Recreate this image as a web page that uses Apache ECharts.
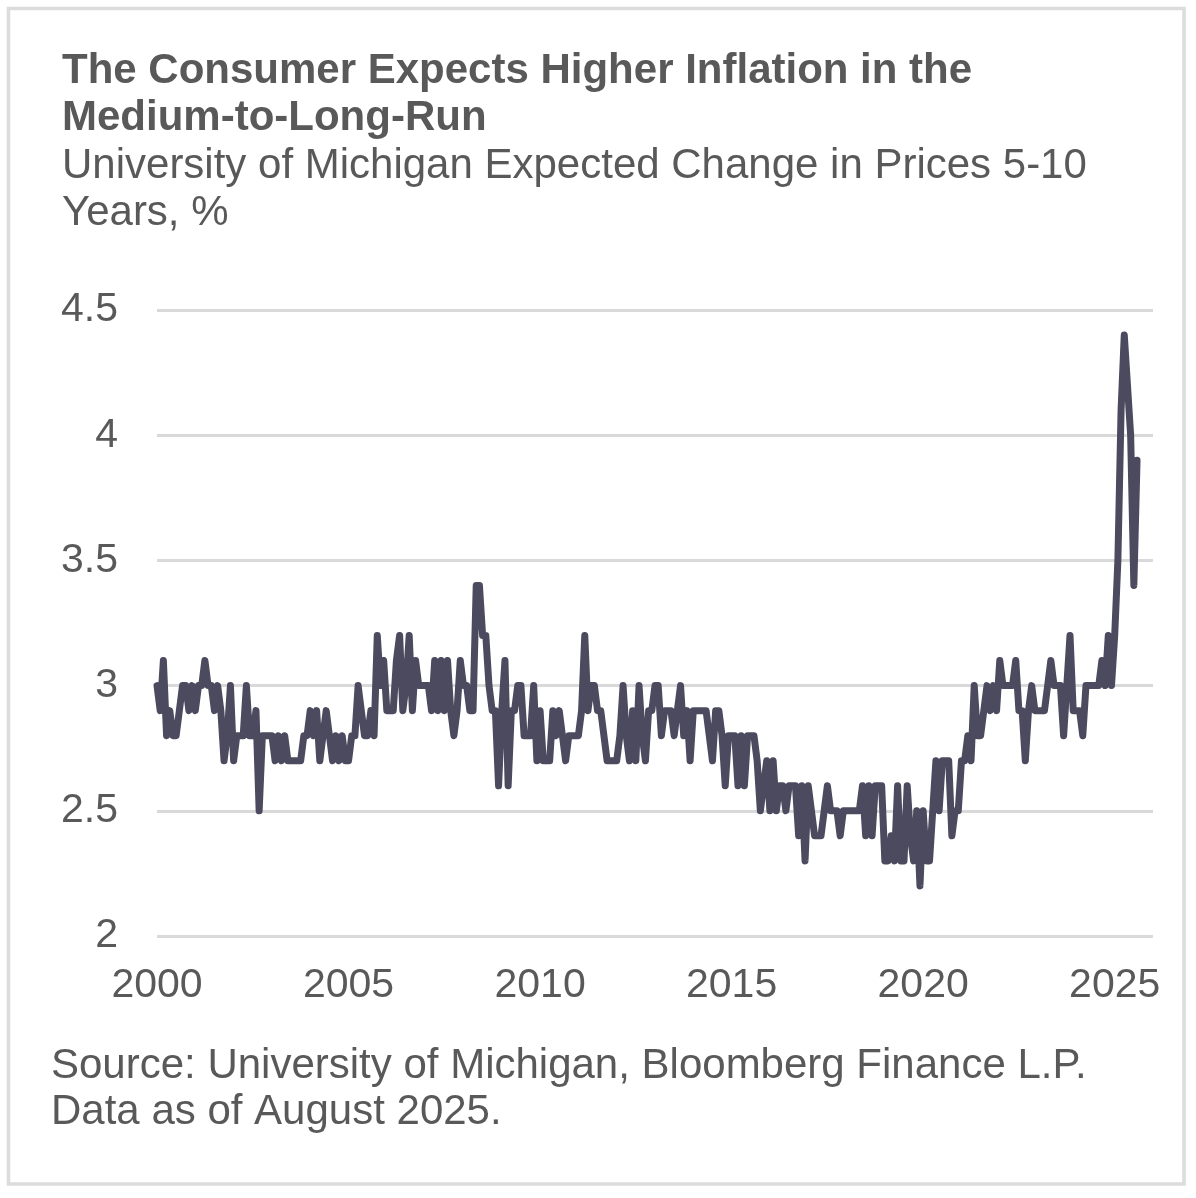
<!DOCTYPE html>
<html>
<head>
<meta charset="utf-8">
<title>UMich 5-10 Year Inflation Expectations</title>
<script src="https://cdn.jsdelivr.net/npm/echarts@6/dist/echarts.min.js"></script>
<style>
    html, body { margin: 0; padding: 0; background: #ffffff; }
    #main { width: 1196px; height: 1198px; }
</style>
</head>
<body>
<div id="main"></div>
<script>
// monthly readings, Jan 2000 onward (%)
var v2000_04 = [
    3.0, 2.9, 3.1, 2.8, 2.9, 2.8, 2.8, 2.9, 3.0, 3.0, 2.9, 3.0,
    2.9, 3.0, 3.0, 3.1, 3.0, 3.0, 2.9, 3.0, 2.9, 2.7, 2.8, 3.0,
    2.7, 2.8, 2.8, 2.8, 3.0, 2.8, 2.8, 2.9, 2.5, 2.8, 2.8, 2.8,
    2.8, 2.7, 2.8, 2.7, 2.8, 2.7, 2.7, 2.7, 2.7, 2.7, 2.8, 2.8,
    2.9, 2.8, 2.9, 2.7, 2.8, 2.9, 2.8, 2.7, 2.8, 2.7, 2.8, 2.7
];
var v2005_09 = [
    2.7, 2.8, 2.8, 3.0, 2.9, 2.8, 2.8, 2.9, 2.8, 3.2, 3.0, 3.1,
    2.9, 2.9, 2.9, 3.1, 3.2, 2.9, 3.0, 3.2, 2.9, 3.1, 3.0, 3.0,
    3.0, 3.0, 2.9, 3.1, 2.9, 3.1, 2.9, 3.1, 2.9, 2.8, 2.9, 3.1,
    3.0, 3.0, 2.9, 2.9, 3.4, 3.4, 3.2, 3.2, 3.0, 2.9, 2.9, 2.6,
    2.9, 3.1, 2.6, 2.9, 2.9, 3.0, 3.0, 2.8, 2.8, 2.8, 3.0, 2.7
];
var v2010_14 = [
    2.9, 2.7, 2.7, 2.7, 2.9, 2.8, 2.9, 2.8, 2.7, 2.8, 2.8, 2.8,
    2.8, 2.9, 3.2, 2.9, 3.0, 3.0, 2.9, 2.9, 2.8, 2.7, 2.7, 2.7,
    2.7, 2.8, 3.0, 2.8, 2.7, 2.9, 2.7, 3.0, 2.8, 2.7, 2.9, 2.9,
    3.0, 3.0, 2.8, 2.9, 2.9, 2.9, 2.8, 2.9, 3.0, 2.8, 2.9, 2.7,
    2.9, 2.9, 2.9, 2.9, 2.9, 2.8, 2.7, 2.9, 2.9, 2.8, 2.6, 2.8
];
var v2015_19 = [
    2.8, 2.8, 2.6, 2.8, 2.6, 2.8, 2.8, 2.8, 2.7, 2.5, 2.6, 2.7,
    2.5, 2.7, 2.5, 2.6, 2.6, 2.5, 2.6, 2.6, 2.6, 2.4, 2.6, 2.3,
    2.6, 2.5, 2.4, 2.4, 2.4, 2.5, 2.6, 2.5, 2.5, 2.5, 2.4, 2.5,
    2.5, 2.5, 2.5, 2.5, 2.5, 2.6, 2.4, 2.6, 2.4, 2.6, 2.6, 2.6,
    2.3, 2.3, 2.4, 2.3, 2.6, 2.3, 2.3, 2.6, 2.4, 2.3, 2.5, 2.2
];
var v2020_25 = [
    2.5, 2.3, 2.3, 2.5, 2.7, 2.5, 2.7, 2.7, 2.7, 2.4, 2.5, 2.5,
    2.7, 2.7, 2.8, 2.7, 3.0, 2.8, 2.8, 2.9, 3.0, 2.9, 3.0, 2.9,
    3.1, 3.0, 3.0, 3.0, 3.0, 3.1, 2.9, 2.9, 2.7, 2.9, 3.0, 2.9,
    2.9, 2.9, 2.9, 3.0, 3.1, 3.0, 3.0, 3.0, 2.8, 3.0, 3.2, 2.9,
    2.9, 2.9, 2.8, 3.0, 3.0, 3.0, 3.0, 3.0, 3.1, 3.0, 3.2, 3.0,
    3.2, 3.5, 4.1, 4.4, 4.2, 4.0, 3.4, 3.9
];
var startYear = 2000;
var yearTicks = [2000, 2005, 2010, 2015, 2020, 2025];

var titleText = 'The Consumer Expects Higher Inflation in the\nMedium-to-Long-Run';
var subText = 'University of Michigan Expected Change in Prices 5-10\nYears, %';
var sourceText = 'Source: University of Michigan, Bloomberg Finance L.P.\nData as of August 2025.';

var values = [].concat(v2000_04, v2005_09, v2010_14, v2015_19, v2020_25);
var seriesData = [];
for (var i = 0; i < values.length; i++) {
    // x in fractional years: one step per month
    seriesData.push([startYear + i / 12, values[i]]);
}

var textGrey = '#595959';
var font = '"Liberation Sans", Arial, sans-serif';

var myChart = echarts.init(document.getElementById('main'));

var option = {
    backgroundColor: '#ffffff',
    animation: false,
    title: [{
        text: titleText,
        left: 62,
        top: 48,
        padding: 0,
        textStyle: {
            fontFamily: font,
            fontSize: 42,
            fontWeight: 'bold',
            lineHeight: 47,
            color: textGrey
        }
    }, {
        text: subText,
        left: 62,
        top: 143,
        padding: 0,
        textStyle: {
            fontFamily: font,
            fontSize: 42,
            fontWeight: 'normal',
            lineHeight: 47,
            color: textGrey
        }
    }, {
        text: sourceText,
        left: 51,
        top: 1043,
        padding: 0,
        textStyle: {
            fontFamily: font,
            fontSize: 42,
            fontWeight: 'normal',
            lineHeight: 46,
            color: textGrey
        }
    }],
    graphic: [{
        // light frame round the whole card
        type: 'rect',
        shape: { x: 8.5, y: 8.5, width: 1175.5, height: 1175.5 },
        style: { fill: 'none', stroke: '#dcdcdc', lineWidth: 3.5 },
        silent: true
    }],
    grid: {
        left: 157,
        right: 43,
        top: 310,
        bottom: 262
    },
    xAxis: {
        type: 'value',
        min: 2000,
        max: 2026,
        interval: 5,
        axisLine: { show: false },
        axisTick: { show: false },
        splitLine: { show: false },
        axisLabel: {
            margin: 29,
            fontFamily: font,
            fontSize: 41,
            color: textGrey,
            showMaxLabel: false,
            formatter: function (v) {
                return yearTicks.indexOf(v) >= 0 ? String(v) : '';
            }
        }
    },
    yAxis: {
        type: 'value',
        min: 2,
        max: 4.5,
        interval: 0.5,
        axisLine: { show: false },
        axisTick: { show: false },
        axisLabel: {
            margin: 39,
            fontFamily: font,
            fontSize: 41,
            color: textGrey
        },
        splitLine: {
            lineStyle: { color: '#d9d9d9', width: 3 }
        }
    },
    series: [{
        type: 'line',
        data: seriesData,
        showSymbol: false,
        symbol: 'none',
        lineStyle: {
            color: '#4b4a5e',
            width: 7,
            join: 'round',
            cap: 'round'
        }
    }]
};

myChart.setOption(option);
</script>
</body>
</html>
